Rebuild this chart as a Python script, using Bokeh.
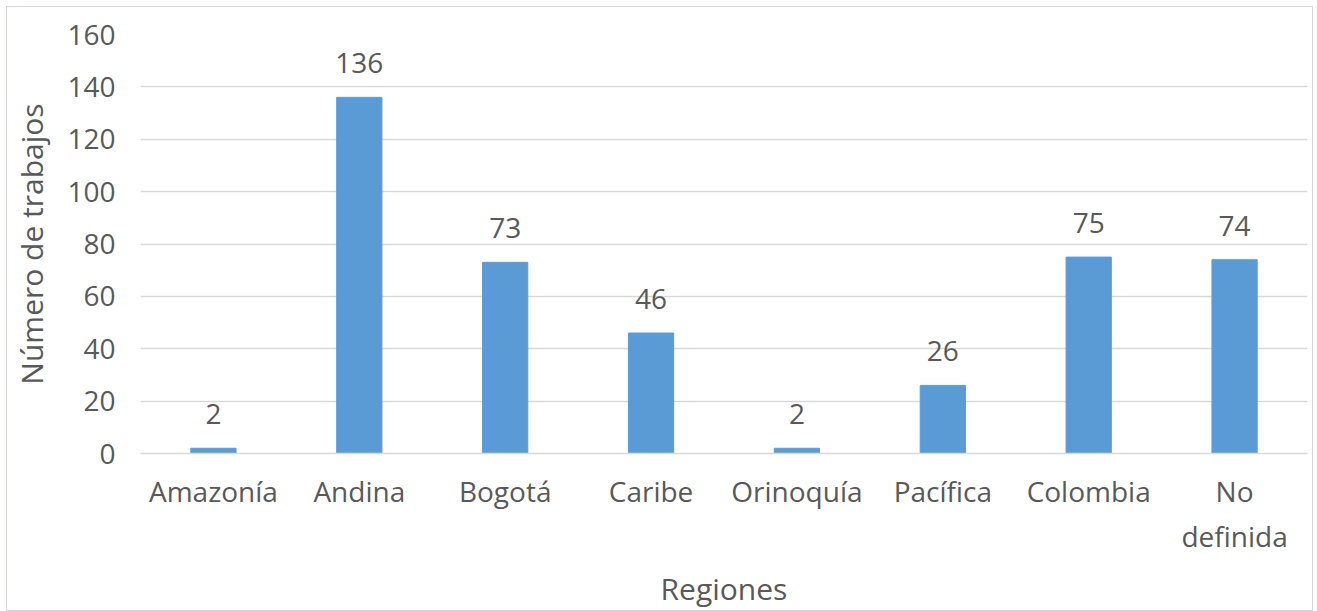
from bokeh.plotting import figure
from bokeh.models import ColumnDataSource, LabelSet, FixedTicker
from bokeh.core.properties import value
from bokeh.embed import file_html
from bokeh.resources import INLINE

regions = ["Amazonía", "Andina", "Bogotá", "Caribe", "Orinoquía", "Pacífica", "Colombia", "No\ndefinida"]
counts = [2, 136, 73, 46, 2, 26, 75, 74]
y_ticks = [0, 20, 40, 60, 80, 100, 120, 140, 160]

src = ColumnDataSource(dict(x=regions, y=counts, lbl=[str(c) for c in counts]))

FONT = "Open Sans"
GREY = "#595959"

p = figure(x_range=regions, y_range=(0, 160), width=1307, height=605,
           output_backend="svg", toolbar_location=None,
           min_border_left=133, min_border_right=7, min_border_top=27, min_border_bottom=150)
p.styles = {"border": "1px solid #D9D3E8", "margin": "6px 0 0 6px"}
p.outline_line_color = None
p.background_fill_color = "white"

p.vbar(x="x", top="y", width=0.31, source=src, color="#5B9BD5")

labels = LabelSet(x="x", y="y", text="lbl", source=src, text_align="center",
                  text_baseline="middle", y_offset=34, text_font=value(FONT),
                  text_font_size="28px", text_color=GREY)
p.add_layout(labels)

p.yaxis.ticker = FixedTicker(ticks=y_ticks)
p.ygrid.grid_line_color = "#D9D9D9"
p.ygrid.grid_line_width = 1.5
p.xgrid.grid_line_color = None

for ax in (p.xaxis, p.yaxis):
    ax.major_tick_line_color = None
    ax.minor_tick_line_color = None
    ax.major_label_text_font = FONT
    ax.major_label_text_font_size = "28px"
    ax.major_label_text_color = GREY
    ax.axis_label_text_font = FONT
    ax.axis_label_text_font_size = "30px"
    ax.axis_label_text_color = GREY
    ax.axis_label_text_font_style = "normal"

p.yaxis.axis_line_color = None
p.xaxis.axis_line_color = "#D9D9D9"
p.xaxis.axis_line_width = 1.5
p.yaxis.major_label_standoff = 19
p.xaxis.major_label_standoff = 12
p.yaxis.axis_label = "Número de trabajos"
p.xaxis.axis_label = "Regiones"
p.yaxis.axis_label_standoff = 12
p.xaxis.axis_label_standoff = 10

open("out.html", "w").write(file_html(p, INLINE))
